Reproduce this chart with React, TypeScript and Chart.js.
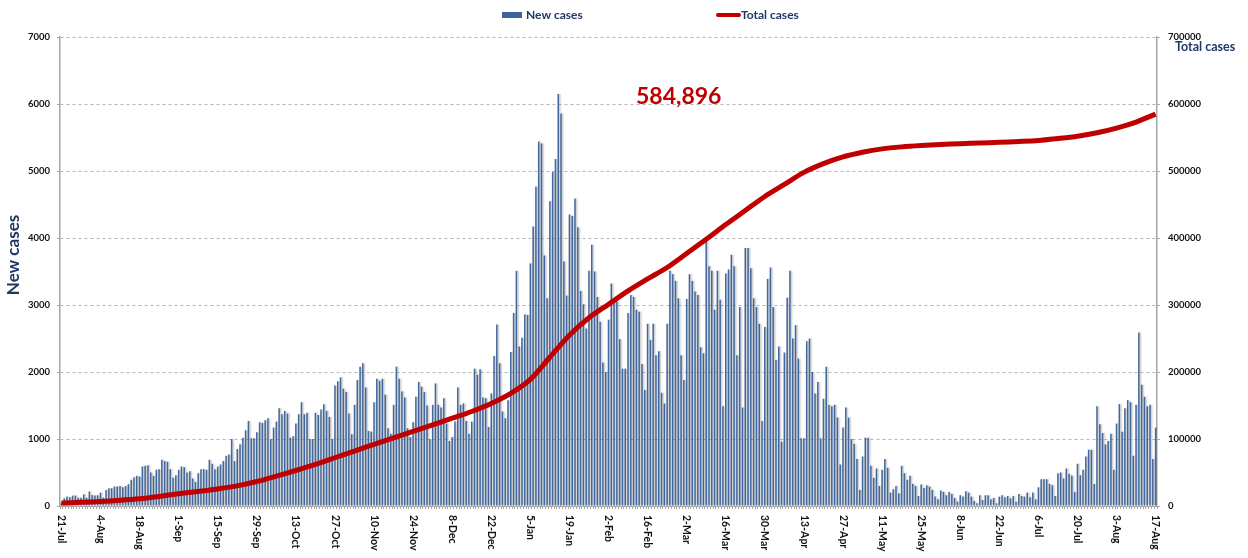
import React, { useEffect, useRef } from 'react';
import { Chart, registerables } from 'chart.js';

Chart.register(...registerables);

// ---------- DATA ----------
const START_DATE = '2020-07-21';

// daily new cases, 21-Jul-2020 .. 17-Aug-2021
const NEW_CASES_JUL_SEP = [
  50, 115, 140, 130, 155, 155, 125, 125, 175, 125, 215, 165, 155, 160,
  200, 125, 240, 265, 265, 290, 290, 300, 280, 300, 325, 390, 430, 450,
  440, 590, 600, 610, 500, 450, 540, 550, 690, 670, 660, 550, 420, 460,
  540, 590, 580, 500, 520, 410, 360, 490, 550, 550, 540, 690, 630, 550,
  590, 620, 670, 750, 770, 1000, 670, 850, 920, 1020, 1130, 1270, 1010, 1010,
];
const NEW_CASES_OCT_DEC = [
  1100, 1250, 1240, 1280, 1310, 1000, 1170, 1260, 1460, 1370, 1420, 1380, 1020, 1040,
  1230, 1370, 1550, 1370, 1390, 1000, 1000, 1390, 1360, 1440, 1520, 1420, 1330, 1000,
  1800, 1860, 1920, 1750, 1700, 1380, 1070, 1510, 1880, 2080, 2130, 1770, 1120, 1110,
  1550, 1900, 1870, 1900, 1660, 1160, 1080, 1510, 2080, 1900, 1710, 1620, 1160, 1030,
  1250, 1630, 1850, 1780, 1700, 1500, 1000, 1510, 1830, 1510, 1470, 1610, 1230, 970,
  1030, 1260, 1770, 1510, 1530, 1270, 1080, 1260, 2050, 1960, 2040, 1620, 1610, 1180,
  1680, 2240, 2710, 2130, 1410, 1310, 1580, 2300, 2880, 3510, 2380, 2510, 2860, 2850,
];
const NEW_CASES_JAN_MAR = [
  3620, 4170, 4770, 5440, 5410, 3740, 3100, 4550, 4990, 5180, 6150, 5860, 3650, 3140,
  4350, 4330, 4590, 4160, 3210, 3010, 2650, 3510, 3900, 3500, 3120, 2750, 2140, 2000,
  2780, 3320, 3070, 3050, 2490, 2050, 2050, 2880, 3150, 3120, 2930, 2900, 2120, 1730,
  2720, 2480, 2720, 2250, 2310, 1690, 1530, 2720, 3510, 3460, 3360, 3100, 2250, 1880,
  3090, 3460, 3360, 3200, 3150, 2370, 2280, 3940, 3580, 3510, 2930, 3510, 3080, 1490,
  3470, 3530, 3750, 3580, 2250, 2970, 1470, 3850, 3850, 3550, 3100, 2970, 2720, 1270,
];
const NEW_CASES_APR_JUN = [
  2670, 3390, 3560, 2970, 2180, 2380, 960, 2290, 3110, 3510, 2500, 2700, 2200, 1010,
  1010, 2460, 2500, 2000, 1680, 1850, 1010, 1600, 2080, 1510, 1490, 1510, 1320, 620,
  1170, 1470, 1320, 1000, 930, 700, 240, 740, 1020, 1020, 600, 420, 560, 300,
  540, 700, 570, 200, 250, 300, 190, 600, 490, 390, 450, 330, 300, 150,
  320, 270, 310, 290, 240, 140, 100, 230, 210, 160, 210, 180, 120, 65,
  160, 140, 220, 200, 140, 75, 40, 160, 90, 160, 160, 100, 120, 40,
  140, 160, 130, 150, 115, 150, 65, 180, 150, 140, 200, 130, 200, 100,
];
const NEW_CASES_JUL_AUG = [
  280, 400, 400, 400, 330, 310, 150, 490, 500, 410, 560, 480, 450, 210,
  630, 460, 540, 740, 840, 840, 330, 1490, 1220, 1090, 920, 970, 1080, 540,
  1230, 1520, 1110, 1460, 1580, 1550, 750, 1510, 2590, 1810, 1630, 1490, 1510, 700,
  1170,
];
const NEW_CASES = [
  ...NEW_CASES_JUL_SEP,
  ...NEW_CASES_OCT_DEC,
  ...NEW_CASES_JAN_MAR,
  ...NEW_CASES_APR_JUN,
  ...NEW_CASES_JUL_AUG,
];

// total cases
const TOTAL_DATES = [
  '2020-07-21', '2020-07-28', '2020-08-04', '2020-08-11', '2020-08-18', '2020-08-25',
  '2020-09-01', '2020-09-08', '2020-09-15', '2020-09-22', '2020-09-29', '2020-10-06',
  '2020-10-13', '2020-10-20', '2020-10-27', '2020-11-03', '2020-11-10', '2020-11-17',
  '2020-11-24', '2020-12-01', '2020-12-08', '2020-12-15', '2020-12-22', '2020-12-29',
  '2021-01-05', '2021-01-12', '2021-01-19', '2021-01-26', '2021-02-02', '2021-02-09',
  '2021-02-16', '2021-02-23', '2021-03-02', '2021-03-09', '2021-03-16', '2021-03-23',
  '2021-03-30', '2021-04-06', '2021-04-13', '2021-04-20', '2021-04-27', '2021-05-04',
  '2021-05-11', '2021-05-18', '2021-05-25', '2021-06-01', '2021-06-08', '2021-06-15',
  '2021-06-22', '2021-06-29', '2021-07-06', '2021-07-13', '2021-07-20', '2021-07-27',
  '2021-08-03', '2021-08-10', '2021-08-17',
];
const TOTAL_CASES = [
  4500, 5500, 6800, 8500, 10800, 14300,
  18300, 21800, 25500, 30000, 36500, 44500,
  53000, 62000, 72000, 82000, 92000, 101500,
  111500, 121000, 131000, 141000, 153000, 168000,
  189000, 222000, 255000, 281000, 301000, 321000,
  339000, 356000, 377000, 398000, 420000, 441000,
  462000, 480000, 498000, 511000, 521000, 528000,
  533000, 536000, 538000, 539500, 540700, 541800,
  542800, 544000, 545500, 548500, 552000, 557000,
  564000, 573000, 584896,
];

const TICK_DATES = [
  '2020-07-21', '2020-08-04', '2020-08-18', '2020-09-01', '2020-09-15', '2020-09-29',
  '2020-10-13', '2020-10-27', '2020-11-10', '2020-11-24', '2020-12-08', '2020-12-22',
  '2021-01-05', '2021-01-19', '2021-02-02', '2021-02-16', '2021-03-02', '2021-03-16',
  '2021-03-30', '2021-04-13', '2021-04-27', '2021-05-11', '2021-05-25', '2021-06-08',
  '2021-06-22', '2021-07-06', '2021-07-20', '2021-08-03', '2021-08-17',
];
const TICK_LABELS = [
  '21-Jul', '4-Aug', '18-Aug', '1-Sep', '15-Sep', '29-Sep',
  '13-Oct', '27-Oct', '10-Nov', '24-Nov', '8-Dec', '22-Dec',
  '5-Jan', '19-Jan', '2-Feb', '16-Feb', '2-Mar', '16-Mar',
  '30-Mar', '13-Apr', '27-Apr', '11-May', '25-May', '8-Jun',
  '22-Jun', '6-Jul', '20-Jul', '3-Aug', '17-Aug',
];

const LATEST_TOTAL_LABEL = '584,896';

function buildDates(start: string, n: number): string[] {
  const base = new Date(start + 'T00:00:00Z').getTime();
  const out: string[] = [];
  for (let i = 0; i < n; i++) {
    out.push(new Date(base + i * 86400000).toISOString().slice(0, 10));
  }
  return out;
}
const DATES = buildDates(START_DATE, NEW_CASES.length);

// ---------- STYLE ----------
const FONT = 'Lato, "Open Sans", "DejaVu Sans", sans-serif';
const NAVY = '#1F3864';
const BAR_COLOR = '#41679C';
const LINE_COLOR = '#C00000';
const AXIS_GREY = '#A6A6A6';

const overlayPlugin = {
  id: 'overlay',
  beforeDatasetDraw(chart: any, args: any) {
    if (args.index === 0) {
      const c = chart.ctx;
      c.save();
      c.shadowColor = 'rgba(90,90,90,0.35)';
      c.shadowOffsetX = 1.5;
      c.shadowOffsetY = 0;
      c.shadowBlur = 1.5;
    }
  },
  afterDatasetDraw(chart: any, args: any) {
    if (args.index === 0) chart.ctx.restore();
  },
  afterDraw(chart: any) {
    const c = chart.ctx;
    const xs = chart.scales.x;
    const area = chart.chartArea;
    const labels: string[] = chart.data.labels;

    // x tick labels, rotated clockwise
    c.save();
    c.fillStyle = '#111';
    c.font = `bold 10.5px ${FONT}`;
    c.textAlign = 'left';
    c.textBaseline = 'middle';
    TICK_DATES.forEach((d, i) => {
      const idx = labels.indexOf(d);
      if (idx < 0) return;
      const x = xs.getPixelForValue(idx);
      c.save();
      c.translate(x, xs.top + 9);
      c.rotate(Math.PI / 2);
      c.fillText(TICK_LABELS[i], 0, 0);
      c.restore();
    });
    c.restore();

    // legend
    c.save();
    c.font = `bold 12px ${FONT}`;
    c.textBaseline = 'middle';
    c.textAlign = 'left';
    const ly = 15;
    c.fillStyle = '#3E6398';
    c.fillRect(502, ly - 3, 20, 6);
    c.fillStyle = NAVY;
    c.fillText('New cases', 526, ly);
    c.strokeStyle = LINE_COLOR;
    c.lineWidth = 4;
    c.lineCap = 'round';
    c.beginPath();
    c.moveTo(718, ly);
    c.lineTo(739, ly);
    c.stroke();
    c.fillStyle = NAVY;
    c.fillText('Total cases', 741, ly);
    c.restore();

    // left axis title
    c.save();
    c.font = `bold 17px ${FONT}`;
    c.fillStyle = NAVY;
    c.textAlign = 'center';
    c.textBaseline = 'middle';
    c.translate(14, 255);
    c.rotate(-Math.PI / 2);
    c.fillText('New cases', 0, 0);
    c.restore();

    // right axis title
    c.save();
    c.font = `bold 12.5px ${FONT}`;
    c.fillStyle = NAVY;
    c.textAlign = 'left';
    c.textBaseline = 'middle';
    c.fillText('Total cases', area.right + 18, area.top + 10);
    c.restore();

    // latest total annotation
    c.save();
    c.font = `bold 23px ${FONT}`;
    c.fillStyle = LINE_COLOR;
    c.textAlign = 'center';
    c.textBaseline = 'middle';
    c.fillText(LATEST_TOTAL_LABEL, area.left + (area.right - area.left) * 0.564, area.top + 60);
    c.restore();
  },
};

export default function App() {
  const ref = useRef<HTMLCanvasElement | null>(null);

  useEffect(() => {
    if (!ref.current) return;
    const tickFont = { family: FONT, size: 9.5, weight: 'bold' as const };
    const chart = new Chart(ref.current, {
      type: 'bar',
      data: {
        labels: DATES,
        datasets: [
          {
            type: 'bar',
            label: 'New cases',
            data: NEW_CASES,
            backgroundColor: BAR_COLOR,
            borderWidth: 0,
            barPercentage: 0.55,
            categoryPercentage: 1,
            yAxisID: 'y',
            order: 1,
          } as any,
          {
            type: 'line',
            label: 'Total cases',
            data: TOTAL_DATES.map((d, i) => ({ x: d, y: TOTAL_CASES[i] })),
            borderColor: LINE_COLOR,
            backgroundColor: LINE_COLOR,
            borderWidth: 5,
            pointRadius: 0,
            tension: 0.3,
            yAxisID: 'y1',
            order: 0,
          } as any,
        ],
      },
      options: {
        animation: false,
        responsive: true,
        maintainAspectRatio: false,
        layout: { padding: { top: 37, left: 0, right: 0, bottom: 0 } },
        plugins: {
          legend: { display: false },
          tooltip: { enabled: false },
        },
        scales: {
          x: {
            type: 'category',
            offset: true,
            grid: {
              display: true,
              drawOnChartArea: false,
              drawTicks: true,
              tickLength: 3,
              color: AXIS_GREY,
            },
            border: { display: true, color: AXIS_GREY, width: 1 },
            ticks: { display: false },
            afterFit: (s: any) => {
              s.height = 52;
            },
          },
          y: {
            position: 'left',
            min: 0,
            max: 7000,
            ticks: {
              stepSize: 1000,
              font: tickFont,
              color: '#111',
              padding: 7,
              callback: (v: any) => String(v),
            },
            grid: { color: '#B5B5B5', tickLength: 3, tickColor: AXIS_GREY },
            border: { display: true, color: AXIS_GREY, width: 1.5, dash: [3, 3] },
            afterFit: (s: any) => {
              s.width = 60;
            },
          },
          y1: {
            position: 'right',
            min: 0,
            max: 700000,
            ticks: {
              stepSize: 100000,
              font: tickFont,
              color: '#111',
              padding: 8,
              callback: (v: any) => String(v),
            },
            grid: { drawOnChartArea: false, tickLength: 3, color: AXIS_GREY },
            border: { display: true, color: AXIS_GREY, width: 1.5 },
            afterFit: (s: any) => {
              s.width = 91;
            },
          },
        },
      } as any,
      plugins: [overlayPlugin],
    });
    return () => chart.destroy();
  }, []);

  return (
    <div
      style={{
        position: 'fixed',
        left: 0,
        top: 0,
        width: 1248,
        height: 558,
        background: '#ffffff',
      }}
    >
      <canvas ref={ref} />
    </div>
  );
}
